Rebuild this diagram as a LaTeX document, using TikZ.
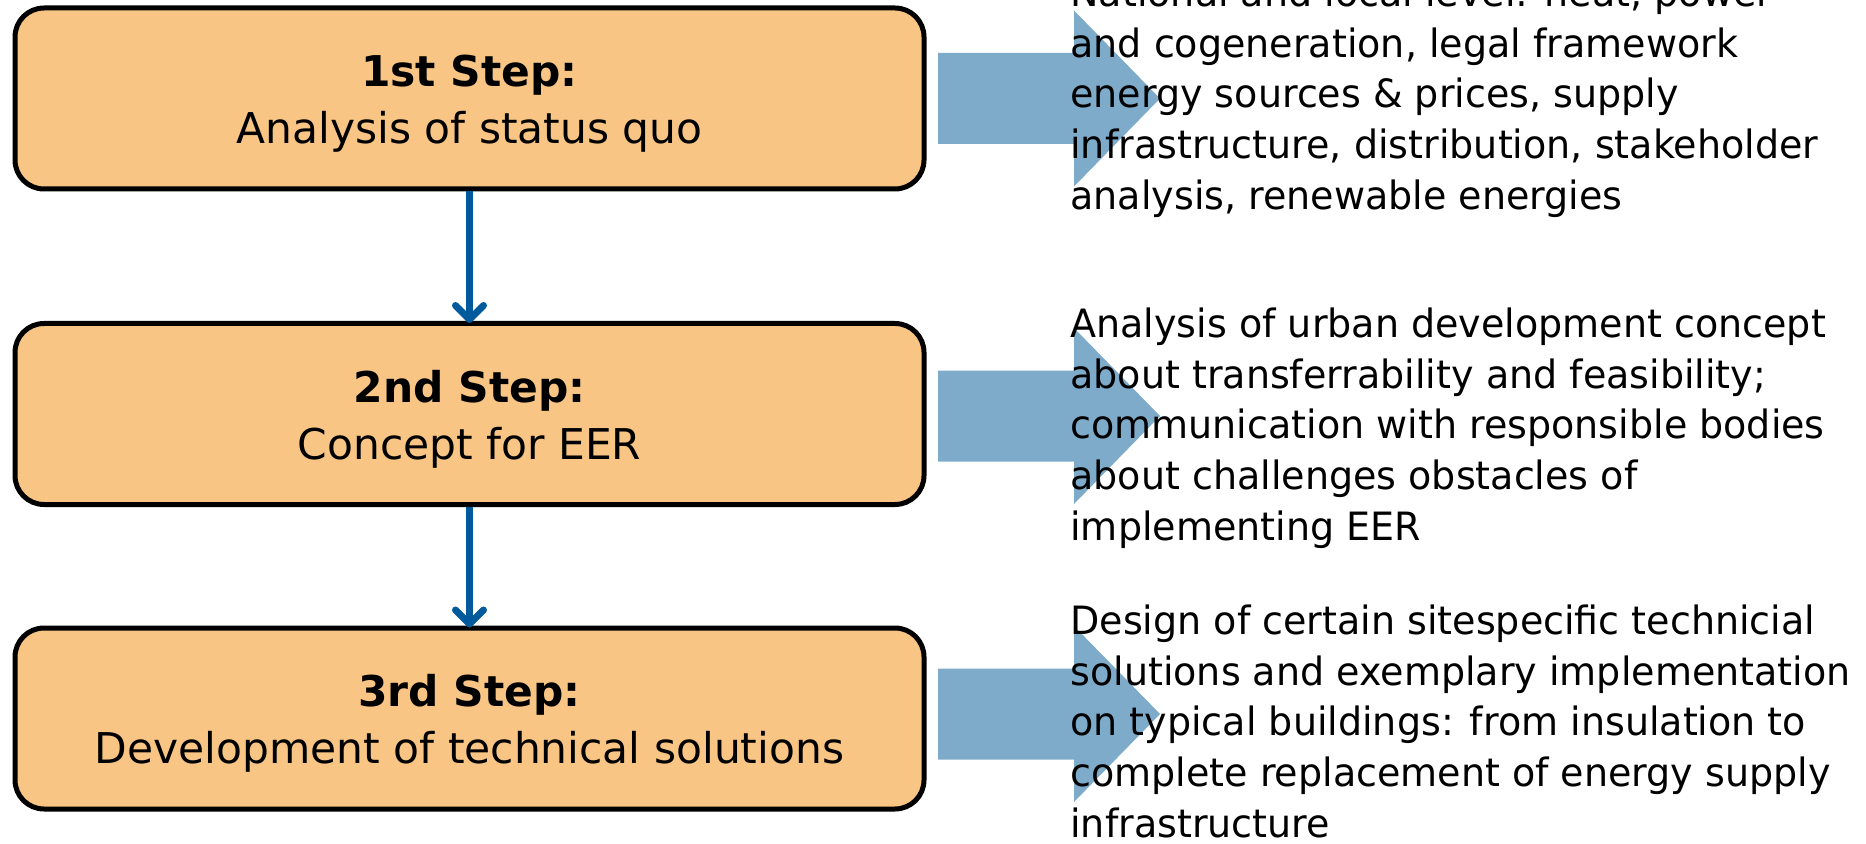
\documentclass[tikz,border=0pt]{standalone}
\usepackage{fontspec}
\setmainfont{DejaVu Sans}
\newfontfamily\descfont[FakeStretch=0.975]{DejaVu Sans}
\usetikzlibrary{arrows.meta}
\definecolor{boxfill}{HTML}{F8C584}
\definecolor{flowblue}{HTML}{005A9C}
\definecolor{blockblue}{HTML}{7FABCB}
\newcommand{\toplift}{\rule{0pt}{21pt}}
\begin{document}
\begin{tikzpicture}[x=0.5pt,y=-0.5pt,
  stepbox/.style={draw=black,line width=2.5pt,fill=boxfill,rounded corners=14.5pt,
    minimum width=454.5pt,minimum height=90.5pt,align=center,inner sep=0pt,
    font=\fontsize{21.2}{27.5}\selectfont},
  flow/.style={draw=flowblue,line width=3.5pt,shorten >=-1pt,
    -{Straight Barb[length=7pt,width=14pt,line cap=round,line join=round]}},
  desc/.style={anchor=north west,align=left,inner sep=0pt,
    font=\descfont\fontsize{19.5}{25.35}\selectfont},
  blockarrow/.pic={\fill[blockblue] (0,-45.5) -- (136,-45.5) -- (136,-88) -- (222,0)
    -- (136,88) -- (136,45.5) -- (0,45.5) -- cycle;}
]
\useasboundingbox (0,0) rectangle (1866,844);
\clip (0,0) rectangle (1866,844);

\node[stepbox] (s1) at (469.5,98.5) {\toplift\textbf{1st Step:}\\[1pt]Analysis of status quo};
\node[stepbox] (s2) at (469.5,414) {\toplift\textbf{2nd Step:}\\[1pt]Concept for EER};
\node[stepbox] (s3) at (469.5,718.5) {\toplift\textbf{3rd Step:}\\[1pt]Development of technical solutions};

\draw[flow] (s1) -- (s2);
\draw[flow] (s2) -- (s3);

\pic at (938,98.5) {blockarrow};
\pic at (938,416) {blockarrow};
\pic at (938,714) {blockarrow};

\node[desc] (d1) at (1070,-29.5) {\strut National and local level: heat, power\\
and cogeneration, legal framework\\
energy sources \& prices, supply\\
infrastructure, distribution, stakeholder\\
analysis, renewable energies};
\node[desc] (d2) at (1070,301.5) {\strut Analysis of urban development concept\\
about transferrability and feasibility;\\
communication with responsible bodies\\
about challenges obstacles of\\
implementing EER};
\node[desc] (d3) at (1070,598.5) {\strut Design of certain sitespecific technicial\\
solutions and exemplary implementation\\
on typical buildings: from insulation to\\
complete replacement of energy supply\\
infrastructure};
\end{tikzpicture}
\end{document}
